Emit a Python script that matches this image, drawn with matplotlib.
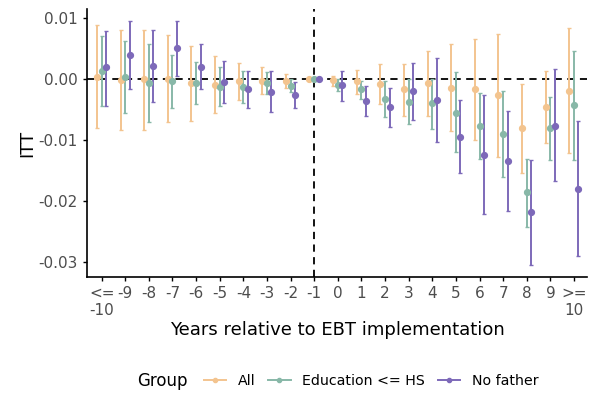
"""Event-study ITT estimates by group, relative to EBT implementation."""

import matplotlib
matplotlib.use("Agg")
import matplotlib.pyplot as plt
from matplotlib.lines import Line2D
import numpy as np

plt.rcParams["font.family"] = ["DejaVu Sans"]
plt.rcParams["axes.unicode_minus"] = False

YEARS = list(range(-10, 11))
TICK_LABELS = ["<=\n-10"] + [str(y) for y in range(-9, 10)] + [">=\n10"]
GROUPS = ["All", "Education <= HS", "No father"]

# point estimates, one list per group (years -10 .. 10)
ALL_EST = [0.0004, -0.0001, 0.0000, 0.0000, -0.0007, -0.0009, -0.0004, -0.0003, -0.0003, 0.0,
           -0.0002, -0.0004, -0.0008, -0.0017, -0.0007, -0.0015, -0.0017, -0.0027, -0.0080, -0.0046, -0.0019]
ALL_LO = [-0.0081, -0.0084, -0.0083, -0.0070, -0.0069, -0.0055, -0.0034, -0.0025, -0.0015, 0.0,
          -0.0011, -0.0025, -0.0041, -0.0060, -0.0060, -0.0086, -0.0100, -0.0128, -0.0154, -0.0105, -0.0121]
ALL_HI = [0.0088, 0.0081, 0.0081, 0.0072, 0.0055, 0.0038, 0.0027, 0.0019, 0.0008, 0.0,
          0.0005, 0.0015, 0.0024, 0.0024, 0.0046, 0.0057, 0.0066, 0.0074, -0.0008, 0.0013, 0.0083]

EDU_EST = [0.0013, 0.0004, -0.0007, -0.0003, -0.0006, -0.0013, -0.0013, -0.0007, -0.0011, 0.0,
           -0.0009, -0.0017, -0.0033, -0.0037, -0.0040, -0.0055, -0.0077, -0.0090, -0.0186, -0.0081, -0.0043]
EDU_LO = [-0.0045, -0.0056, -0.0070, -0.0048, -0.0041, -0.0045, -0.0040, -0.0025, -0.0022, 0.0,
          -0.0019, -0.0032, -0.0062, -0.0074, -0.0082, -0.0120, -0.0132, -0.0160, -0.0243, -0.0133, -0.0133]
EDU_HI = [0.0070, 0.0063, 0.0057, 0.0039, 0.0028, 0.0019, 0.0014, 0.0011, 0.0000, 0.0,
          0.0000, -0.0003, -0.0004, 0.0000, 0.0000, 0.0011, -0.0023, -0.0020, -0.0131, -0.0029, 0.0046]

NOF_EST = [0.0019, 0.0039, 0.0022, 0.0051, 0.0020, -0.0005, -0.0017, -0.0021, -0.0026, 0.0,
           -0.0010, -0.0036, -0.0046, -0.0020, -0.0034, -0.0095, -0.0125, -0.0134, -0.0219, -0.0077, -0.0180]
NOF_LO = [-0.0044, -0.0017, -0.0037, 0.0005, -0.0017, -0.0039, -0.0048, -0.0054, -0.0047, 0.0,
          -0.0036, -0.0061, -0.0078, -0.0067, -0.0104, -0.0155, -0.0221, -0.0216, -0.0306, -0.0168, -0.0290]
NOF_HI = [0.0079, 0.0095, 0.0081, 0.0096, 0.0057, 0.0029, 0.0013, 0.0013, -0.0005, 0.0,
          0.0014, -0.0011, -0.0015, 0.0027, 0.0035, -0.0034, -0.0027, -0.0052, -0.0133, 0.0016, -0.0069]

COLORS = ["#f3c48f", "#88b8a8", "#7d69b9"]
OFFSETS = [-0.2, 0.0, 0.19]

series = [
    (ALL_EST, ALL_LO, ALL_HI),
    (EDU_EST, EDU_LO, EDU_HI),
    (NOF_EST, NOF_LO, NOF_HI),
]

fig = plt.figure(figsize=(5.93, 3.94), dpi=100)
ax = fig.add_axes([87 / 593, 117 / 394, 500 / 593, 268 / 394])

ax.axhline(0, color="black", linestyle=(0, (4, 3)), linewidth=1.3, zorder=1)
ax.axvline(-1, color="black", linestyle=(0, (4, 3)), linewidth=1.3, zorder=1)

x = np.array(YEARS, dtype=float)
for (est, lo, hi), color, offset in zip(series, COLORS, OFFSETS):
    est = np.array(est)
    yerr = np.vstack([est - np.array(lo), np.array(hi) - est])
    ax.errorbar(
        x + offset, est, yerr=yerr, fmt="o", color=color, ecolor=color,
        markersize=4.2, elinewidth=1.4, capsize=1.2, capthick=1.0, zorder=3,
    )

ax.set_xlim(-10.62, 10.55)
ax.set_ylim(-0.0325, 0.0115)
ax.set_xticks(YEARS)
ax.set_xticklabels(TICK_LABELS, multialignment="center")
ax.set_yticks([0.01, 0.0, -0.01, -0.02, -0.03])
ax.set_yticklabels(["0.01", "0.00", "-0.01", "-0.02", "-0.03"])
ax.tick_params(labelsize=11, colors="#4d4d4d", length=3, width=1)
ax.tick_params(axis="both", color="black")

for side in ("top", "right"):
    ax.spines[side].set_visible(False)
for side in ("left", "bottom"):
    ax.spines[side].set_linewidth(1.2)

ax.set_xlabel("Years relative to EBT implementation", fontsize=13, labelpad=2)
ax.set_ylabel("ITT", fontsize=13, labelpad=2)

handles = [
    Line2D([0], [0], color=c, marker="o", markersize=3, linewidth=1.4)
    for c in COLORS
]
fig.text(137 / 593, 1 - 381 / 394, "Group", fontsize=12, va="center", ha="left")
fig.legend(
    handles, GROUPS, loc="center left", bbox_to_anchor=(198 / 593, 1 - 381 / 394),
    ncol=3, frameon=False, fontsize=10.2, handlelength=1.6, columnspacing=0.9,
    handletextpad=0.8, borderaxespad=0,
)

fig.savefig("out.png", dpi=100)
